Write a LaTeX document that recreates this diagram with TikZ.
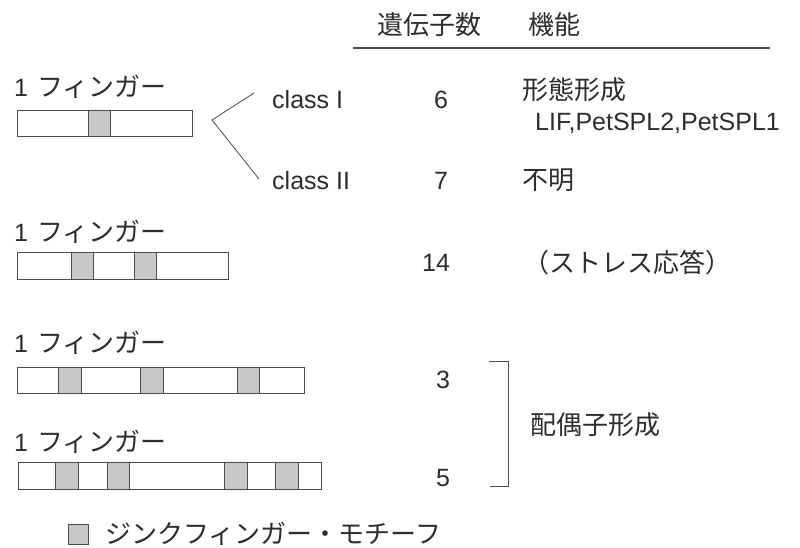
\documentclass[tikz,border=0pt]{standalone}
\usepackage{fontspec}
\setmainfont{Liberation Sans}
\newfontfamily\jp{Noto Sans CJK JP}
\definecolor{ink}{RGB}{45,45,45}
\definecolor{zf}{RGB}{200,200,198}
\begin{document}
\begin{tikzpicture}[x=1pt,y=-1pt,
  txt/.style={inner sep=0pt, text=ink, font=\fontsize{25}{28}\selectfont},
  jtxt/.style={inner sep=0pt, text=ink, font=\fontsize{26}{30}\selectfont\jp},
  bar/.style={draw=ink!85, line width=0.9pt, fill=white},
  motif/.style={draw=ink!85, line width=0.9pt, fill=zf},
  ln/.style={draw=ink!85, line width=0.8pt}]
\useasboundingbox[fill=white] (0,0) rectangle (800,548);

% header
\node[jtxt, anchor=west] (hgenes) at (377,25) {遺伝子数};
\node[jtxt, anchor=west] (hfunc) at (528,25) {機能};
\coordinate (hl1) at (353,48);
\coordinate (hl2) at (770,48);
\draw[ln, line width=1.1pt] (hl1) -- (hl2);

% row 1
\node[txt, anchor=west] (lab1) at (14,87) {1\hspace{9pt}{\jp\fontsize{26}{30}\selectfont フィンガー}};
\draw[bar] (17,110) rectangle (192,136);
\draw[motif] (88,110) rectangle (110,136);

\coordinate (v) at (212,120);
\coordinate (fa) at (254,93);
\coordinate (fb) at (259,179);
\draw[ln] (fa) -- (v) -- (fb);

\node[txt, anchor=west] (c1) at (272,100) {class I};
\node[txt, anchor=west] (c2) at (272,181) {class II};
\node[txt] (n6) at (441,100) {6};
\node[txt] (n7) at (441,181) {7};
\node[jtxt, anchor=west] (f1) at (522,90) {形態形成};
\node[txt, anchor=west] (f1b) at (535,123) {LIF,PetSPL2,PetSPL1};
\node[jtxt, anchor=west] (f2) at (522,180) {不明};

% row 2
\node[txt, anchor=west] (lab2) at (14,232) {1\hspace{9pt}{\jp\fontsize{26}{30}\selectfont フィンガー}};
\draw[bar] (17,252) rectangle (228,279);
\draw[motif] (71,252) rectangle (93,279);
\draw[motif] (134,252) rectangle (156,279);
\node[txt] (n14) at (436,263) {14};
\node[jtxt, anchor=west] (f3) at (523,263) {（ストレス応答）};

% row 3
\node[txt, anchor=west] (lab3) at (14,343) {1\hspace{9pt}{\jp\fontsize{26}{30}\selectfont フィンガー}};
\draw[bar] (17,367) rectangle (304,393);
\draw[motif] (58,367) rectangle (81,393);
\draw[motif] (140,367) rectangle (163,393);
\draw[motif] (237,367) rectangle (259,393);
\node[txt] (n3) at (443,380) {3};

% row 4
\node[txt, anchor=west] (lab4) at (14,442) {1\hspace{9pt}{\jp\fontsize{26}{30}\selectfont フィンガー}};
\draw[bar] (18,462) rectangle (321,489);
\draw[motif] (55,462) rectangle (78,489);
\draw[motif] (107,462) rectangle (129,489);
\draw[motif] (224,462) rectangle (247,489);
\draw[motif] (275,462) rectangle (298,489);
\node[txt] (n5) at (443,478) {5};

% bracket
\coordinate (b1) at (489,361);
\coordinate (b2) at (508,361);
\coordinate (b3) at (508,486);
\coordinate (b4) at (490,486);
\draw[ln] (b1) -- (b2) -- (b3) -- (b4);
\node[jtxt, anchor=west] (f4) at (530,425) {配偶子形成};

% legend
\draw[motif] (68,524) rectangle (88,544);
\node[jtxt, anchor=west] (leg) at (105,534) {ジンクフィンガー・モチーフ};
\end{tikzpicture}
\end{document}
